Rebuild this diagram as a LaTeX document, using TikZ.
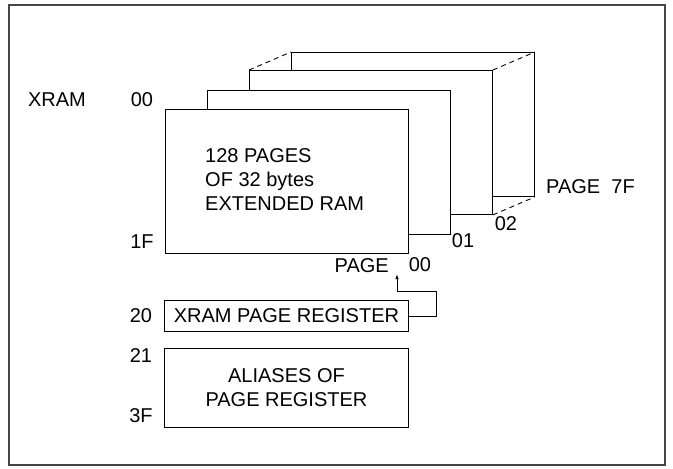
\documentclass[tikz,border=0pt]{standalone}
\usepackage{fontspec}
\setmainfont{Liberation Sans}
\usetikzlibrary{arrows.meta, positioning}
\definecolor{framecolor}{RGB}{70, 70, 70}

\begin{document}
\begin{tikzpicture}[x=1pt, y=-1pt,
    page/.style={draw, fill=white, line width=0.9pt, minimum width=243pt, minimum height=144pt, inner sep=0pt, anchor=north west},
    regbox/.style={draw, fill=white, line width=0.9pt, minimum width=244pt, inner sep=0pt, anchor=north west},
    lbl/.style={font=\fontsize{20}{24}\selectfont, inner sep=0pt},
    link/.style={line width=0.9pt},
    back/.style={line width=0.9pt, dashed, dash pattern=on 5pt off 4pt}]
    \useasboundingbox (0, 0) rectangle (673, 469);

    % Frame
    \draw[framecolor, line width=1.2pt] (9, 5) rectangle (665, 465);

    % Pages, back to front
    \node[page] (p7F) at (291, 52) {};
    \node[page] (p02) at (249, 70) {};
    \node[page] (p01) at (207, 90) {};
    \node[page] (p00) at (165, 109) {};
    \draw[back] (p02.north west) -- (p7F.north west);
    \draw[back] (p02.north east) -- (p7F.north east);
    \draw[back] (p02.south east) -- (p7F.south east);

    % Page contents
    \node[lbl, anchor=north west, align=left] (ramtext) at (205, 148) {128 PAGES\\OF 32 bytes\\EXTENDED RAM};

    % Page labels
    \node[lbl] (xram) at (57, 100) {XRAM};
    \node[lbl] (top00) at (142, 100) {00};
    \node[lbl] (bot1F) at (142, 242) {1F};
    \node[lbl, anchor=east] (pagename) at (389, 266) {PAGE};
    \node[lbl] (pg00) at (420, 265) {00};
    \node[lbl] (pg01) at (463, 241) {01};
    \node[lbl] (pg02) at (506, 224) {02};
    \node[lbl, anchor=west] (pg7F) at (546, 187) {PAGE\ \ 7F};

    % Registers
    \node[regbox, minimum height=31pt, lbl] (pagereg) at (164, 300) {XRAM PAGE REGISTER};
    \node[regbox, minimum height=79pt, lbl, align=center] (aliases) at (164, 348) {ALIASES OF\\PAGE REGISTER};
    \node[lbl] (a20) at (141, 316) {20};
    \node[lbl] (a21) at (141, 356) {21};
    \node[lbl] (a3F) at (141, 416) {3F};

    % Register selects page
    \coordinate (tip) at (397, 274);
    \draw[link, -{Latex[length=5pt, width=3.5pt]}] (pagereg.east) -| (436, 291) -| (tip);
\end{tikzpicture}
\end{document}
